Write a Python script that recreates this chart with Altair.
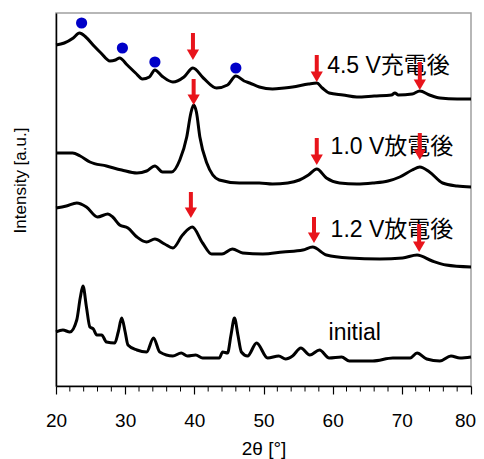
import altair as alt
import pandas as pd

tt_charged = [20, 21.2, 22.5, 23.4, 24.3, 25.5, 26.5, 27.8, 28.6, 29.2, 30.3, 31.5, 32.5, 33.5, 34.3,
              35.3, 36.9, 38.5, 39.8, 41.3, 43.2, 44.8, 46.0, 47.2, 48.0, 49.4, 51.3, 53.0, 54.2,
              56.5, 57.7, 58.5, 59.5, 61.5, 63.5, 66.0, 68.5, 69.0, 69.5, 71.5, 72.6, 74.0, 75.5, 78.0, 80]
rd_charged = [45, 43, 38, 33, 37, 46, 53, 61, 60, 58, 65, 73, 79, 77, 70,
              76, 82, 77, 68, 78, 88, 85, 76, 81, 83, 87, 89, 88, 87,
              84, 83, 88, 93, 95, 97, 96, 95, 93, 95, 94, 91, 95, 98, 99, 99]

tt_dis10 = [20, 21, 22.4, 23.5, 24.9, 27.3, 29.5, 31.7, 33.1, 34.3, 35.4, 36.7, 37.9, 38.9, 39.5,
            39.9, 40.3, 40.8, 41.8, 43.6, 46.5, 49.4, 51.3, 53.5, 55.2, 56.5, 57.7, 59.1, 61.0,
            63.5, 65.8, 68.0, 69.7, 71.5, 72.6, 74.0, 75.9, 78.0, 80]
rd_dis10 = [153, 153, 153, 156, 162, 166, 170, 173, 171, 166, 172, 172, 160, 137, 113,
            105, 112, 137, 163, 180, 183, 183, 184, 183, 180, 175, 169, 178, 183,
            184, 183, 181, 177, 170, 167, 172, 183, 186, 187]

tt_dis12 = [20, 21.5, 23, 24.4, 26, 27.5, 28.2, 29.2, 30.4, 31.7, 33.1, 34.3, 35.7, 36.9, 38.3,
            39.7, 41.2, 42.5, 44, 45.5, 47, 49.9, 52.8, 55.7, 57.1, 59.1, 62.4, 66.8, 70.1,
            72.2, 74.4, 76.4, 80]
rd_dis12 = [208, 206, 203, 207, 217, 214, 217, 225, 228, 237, 242, 239, 244, 248, 235,
            227, 243, 254, 254, 249, 253, 254, 252, 250, 247, 255, 258, 259, 258,
            255, 261, 265, 267]

tt_init = [20, 21, 22, 23, 23.5, 23.9, 24.4, 24.9, 25.4, 25.9, 26.6, 27.3, 28.5, 29.0, 29.5,
           30.0, 30.4, 31.7, 33.1, 34.1, 35.0, 36.9, 38.1, 39.0, 40.2, 41.2, 43.6, 44.1, 44.8,
           45.3, 45.8, 46.3, 46.8, 47.7, 49.0, 50.6, 52.2, 53.2, 54.2, 55.4, 56.7, 58.1, 59.5,
           61.3, 62.4, 65.8, 68.7, 71.2, 72.2, 73.6, 75.5, 77.1, 78.4, 80]
rd_init = [332, 330, 332, 320, 298, 286, 307, 327, 329, 335, 335, 342, 343, 332, 318,
           332, 345, 350, 352, 338, 352, 356, 353, 356, 355, 358, 358, 352, 353,
           335, 318, 335, 352, 356, 343, 358, 356, 359, 356, 348, 355, 350, 358,
           357, 361, 361, 358, 358, 353, 359, 361, 356, 358, 357]

dot_tt = [23.7, 29.6, 34.3, 46.0]
dot_rd = [23, 48, 62, 68]

arrow_tt = [39.8, 57.7, 72.6, 39.9, 57.7, 72.6, 39.5, 57.3, 72.5]
arrow_top = [33, 55, 62, 79, 138, 133, 192, 217, 224]
arrow_tip = [60, 82, 90, 105, 165, 160, 218, 243, 252]

label_text = ["4.5 V充電後", "1.0 V放電後", "1.2 V放電後", "initial"]
label_tt = [59.2, 59.7, 59.7, 59.4]
label_rd = [66, 147, 230, 333]

x_ticks = [20, 30, 40, 50, 60, 70, 80]
minor_ticks = [22, 24, 26, 28, 32, 34, 36, 38, 42, 44, 46, 48, 52, 54, 56, 58, 62, 64, 66, 68, 72, 74, 76, 78]

BASE = 386
FONT = "Liberation Sans, Arial, Noto Sans CJK JP"


def flip(vals):
    return [BASE - v for v in vals]


frames = []
for name, xs, ys in [("charged", tt_charged, rd_charged), ("d10", tt_dis10, rd_dis10),
                     ("d12", tt_dis12, rd_dis12), ("init", tt_init, rd_init)]:
    frames.append(pd.DataFrame({"tt": xs, "I": flip(ys), "s": name}))
curves = pd.concat(frames, ignore_index=True)

dots = pd.DataFrame({"tt": dot_tt, "I": flip(dot_rd)})
arrows = pd.DataFrame({
    "tt": arrow_tt,
    "I": flip(arrow_top),
    "shaft_end": [BASE - t + 8 for t in arrow_tip],
    "head": [BASE - t + 5.2 for t in arrow_tip],
})
labels = pd.DataFrame({"tt": label_tt, "I": flip(label_rd), "t": label_text})
minors = pd.DataFrame({"tt": minor_ticks})

x_scale = alt.Scale(domain=[20, 80], nice=False, zero=False)
y_scale = alt.Scale(domain=[0, 373], nice=False, zero=False)

x_enc = alt.X("tt:Q", scale=x_scale, title="2θ [°]", axis=alt.Axis(
    values=x_ticks,
    labelOffset={"condition": {"test": "datum.value == 80", "value": -6}, "value": 0}))
y_enc = alt.Y("I:Q", scale=y_scale, title="Intensity [a.u.]")

lines = alt.Chart(curves).mark_line(color="black", strokeWidth=3, interpolate="monotone").encode(
    x=x_enc, y=y_enc, detail="s:N")

minor_rules = alt.Chart(minors).mark_rule(color="black", strokeWidth=1).encode(
    x=x_enc, y=alt.value(373), y2=alt.value(378.5))

dot_layer = alt.Chart(dots).mark_circle(size=125, color="#0000c8", opacity=1).encode(
    x=x_enc, y=y_enc)

text_layer = alt.Chart(labels).mark_text(align="left", baseline="middle", font=FONT, fontSize=23,
                                         color="black").encode(
    x=x_enc, y=y_enc, text="t:N")

shafts = alt.Chart(arrows).mark_rule(color="#e8141b", strokeWidth=4).encode(
    x=x_enc, y=y_enc, y2="shaft_end:Q")

heads = alt.Chart(arrows).mark_point(shape="triangle-down", filled=True, size=150, color="#e8141b",
                                     opacity=1).encode(
    x=x_enc, y=alt.Y("head:Q", scale=y_scale, title="Intensity [a.u.]"))

chart = alt.layer(lines, minor_rules, dot_layer, text_layer, shafts, heads).properties(
    width=415, height=373,
    autosize=alt.AutoSizeParams(type="none"),
    padding={"left": 48, "top": 5, "right": 5, "bottom": 73},
).configure_view(
    stroke="#a0a0a0", strokeWidth=1.5
).configure_axis(
    grid=False, domainColor="black", domainWidth=1.5, titleFont=FONT, titleFontWeight="normal",
    titleColor="black", labelFont=FONT, labelColor="black"
).configure_axisX(
    tickSize=8, tickColor="black", tickWidth=1.2, labelFontSize=19, labelPadding=17,
    labelFlush=False, titleFontSize=19, titlePadding=9
).configure_axisY(
    ticks=False, labels=False, titleFontSize=17, titleX=-36, titleY=167, titleAngle=270,
    titleAlign="center", titleBaseline="middle"
)

chart.save("out.html", embed_options={"renderer": "svg", "actions": False})
